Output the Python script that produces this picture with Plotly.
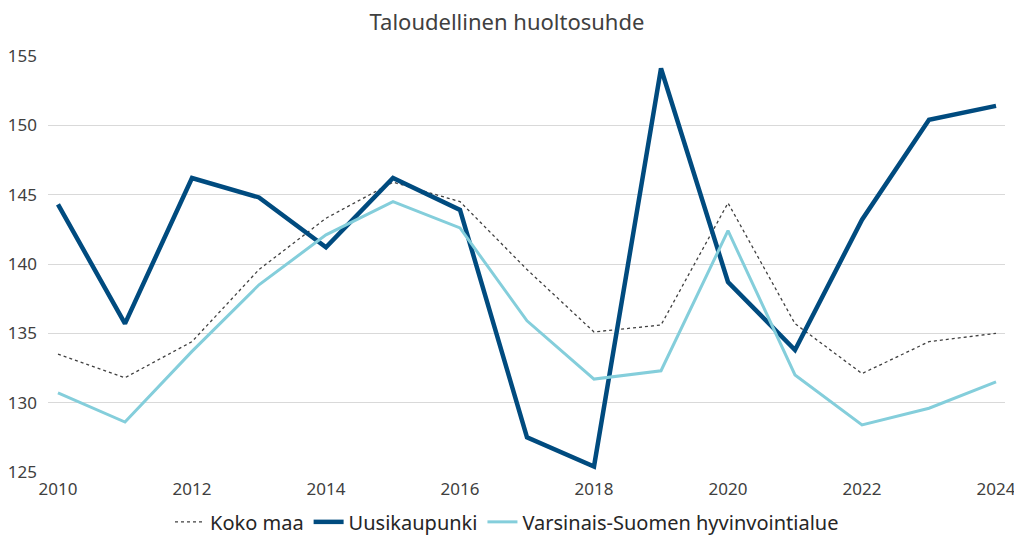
import plotly.graph_objects as go

years = list(range(2010, 2025))
koko_maa = [133.5, 131.8, 134.4, 139.6, 143.3, 145.9, 144.5, 139.6, 135.1, 135.6, 144.4, 135.7, 132.1, 134.4, 135.0]
uusikaupunki = [144.3, 135.7, 146.2, 144.8, 141.2, 146.2, 143.9, 127.5, 125.4, 154.1, 138.7, 133.8, 143.2, 150.4, 151.4]
varsinais_suomi = [130.7, 128.6, 133.7, 138.5, 142.1, 144.5, 142.6, 135.9, 131.7, 132.3, 142.4, 132.0, 128.4, 129.6, 131.5]
x_ticks = list(range(2010, 2025, 2))
y_ticks = [125, 130, 135, 140, 145, 150, 155]

title = "Taloudellinen huoltosuhde"
font_family = "Noto Sans, Open Sans, sans-serif"
txt = "#404040"

fig = go.Figure()
fig.add_trace(go.Scatter(x=years, y=koko_maa, name="Koko maa", mode="lines",
                         line=dict(color="#404040", width=1.3, dash="dot")))
fig.add_trace(go.Scatter(x=years, y=uusikaupunki, name="Uusikaupunki", mode="lines",
                         line=dict(color="#004B7F", width=4.5)))
fig.add_trace(go.Scatter(x=years, y=varsinais_suomi, name="Varsinais-Suomen hyvinvointialue", mode="lines",
                         line=dict(color="#84CEDB", width=3)))

fig.update_layout(
    width=1014, height=538,
    paper_bgcolor="white", plot_bgcolor="white",
    margin=dict(l=48, r=9, t=56, b=66, autoexpand=False),
    font=dict(family=font_family, size=14, color=txt),
    title=dict(text=title, x=0.5, xanchor="center", xref="container", y=0.959, yanchor="middle",
               font=dict(size=22, color=txt)),
    showlegend=True,
    legend=dict(orientation="h", x=0.5, xanchor="center", xref="container",
                y=0.03, yanchor="middle", yref="container",
                font=dict(size=20, color="#262626"), itemwidth=30, tracegroupgap=0),
    xaxis=dict(range=[2009.851, 2024.134], tickmode="array", tickvals=x_ticks,
               showgrid=False, zeroline=False, showline=False, ticks="", automargin=False,
               ticklabeloverflow="allow",
               ticklabelstandoff=5, tickfont=dict(size=17, color=txt)),
    yaxis=dict(range=[125, 155], tickmode="array", tickvals=y_ticks,
               showgrid=True, gridcolor="#D9D9D9", gridwidth=1.2, zeroline=False, showline=False,
               ticks="", automargin=False, ticklabelstandoff=10, tickfont=dict(size=17, color=txt)),
)

fig.write_html("out.html", config={"displayModeBar": False},
               post_script="document.body.style.margin='0px';document.body.style.overflow='hidden';")
